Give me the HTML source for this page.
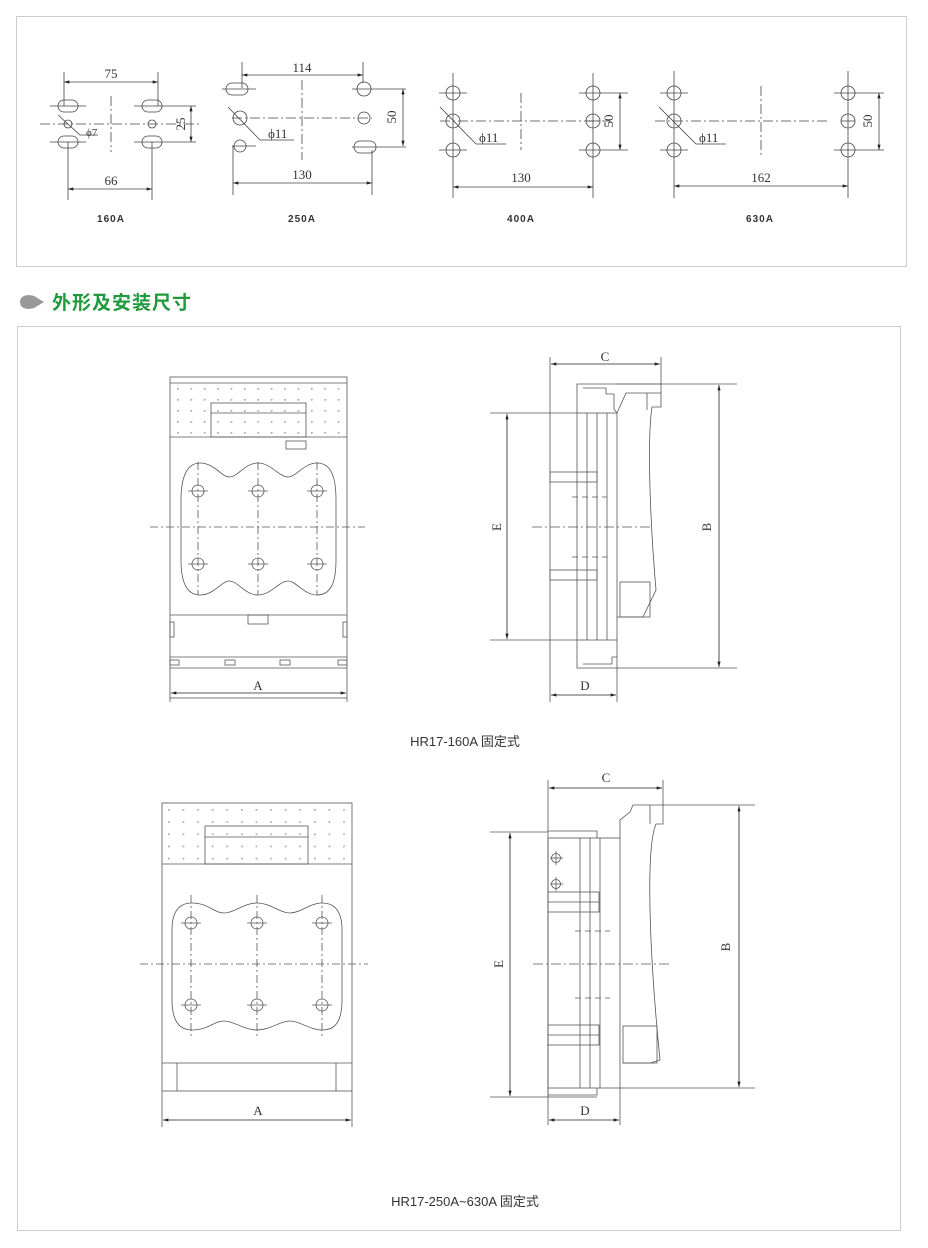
<!DOCTYPE html>
<html><head><meta charset="utf-8"><style>
html,body{margin:0;padding:0;background:#fff;}
svg{display:block;}
text{font-family:"Liberation Serif","Noto Serif CJK SC",serif;fill:#333;}
.s{font-family:"Liberation Sans","Noto Sans CJK SC",sans-serif;}
</style></head><body>
<svg width="928" height="1248" viewBox="0 0 928 1248" xmlns="http://www.w3.org/2000/svg">
<defs>
<marker id="a" viewBox="0 0 10 6" refX="10" refY="3" markerWidth="9" markerHeight="4" orient="auto-start-reverse"><path d="M0,0 L10,3 L0,6z" fill="#222"/></marker>
<pattern id="dots" x="177" y="388" width="13.4" height="11" patternUnits="userSpaceOnUse"><circle cx="0.5" cy="0.5" r="1.3" fill="#aaa"/></pattern>
<pattern id="dots2" x="168" y="809" width="14.6" height="12.2" patternUnits="userSpaceOnUse"><circle cx="0.5" cy="0.5" r="1.3" fill="#aaa"/></pattern>
</defs>
<rect x="16.5" y="16.5" width="890" height="250" fill="none" stroke="#ccc"/>
<rect x="17.5" y="326.5" width="883" height="904" fill="none" stroke="#ccc"/>

<g stroke="#444" stroke-width="0.8" fill="none">
<!-- 160A -->
<line x1="40" y1="124" x2="200" y2="124" stroke-dasharray="10,3,2,3"/>
<line x1="111" y1="96" x2="111" y2="152" stroke-dasharray="10,3,2,3"/>
<rect x="58" y="100" width="20" height="12" rx="6"/><rect x="58" y="136" width="20" height="12" rx="6"/>
<rect x="142" y="100" width="20" height="12" rx="6"/><rect x="142" y="136" width="20" height="12" rx="6"/>
<circle cx="68" cy="124" r="4"/><circle cx="152" cy="124" r="4"/>
<line x1="50" y1="106" x2="86" y2="106"/><line x1="50" y1="142" x2="86" y2="142"/>
<line x1="134" y1="106" x2="196" y2="106"/><line x1="134" y1="142" x2="196" y2="142"/>
<line x1="64" y1="72" x2="64" y2="106"/><line x1="158" y1="72" x2="158" y2="106"/>
<line x1="68" y1="142" x2="68" y2="200"/><line x1="152" y1="142" x2="152" y2="200"/>
<line x1="64" y1="82" x2="158" y2="82" marker-start="url(#a)" marker-end="url(#a)"/>
<line x1="68" y1="189" x2="152" y2="189" marker-start="url(#a)" marker-end="url(#a)"/>
<line x1="191" y1="106" x2="191" y2="142" marker-start="url(#a)" marker-end="url(#a)"/>
<polyline points="58,115 80,135 98,135"/>
<!-- 250A -->
<line x1="232" y1="118" x2="372" y2="118" stroke-dasharray="10,3,2,3"/>
<line x1="302" y1="80" x2="302" y2="160" stroke-dasharray="10,3,2,3"/>
<rect x="226" y="83" width="22" height="12" rx="6"/><circle cx="240" cy="118" r="7"/><circle cx="240" cy="146" r="6"/>
<circle cx="364" cy="89" r="7"/><circle cx="364" cy="118" r="6"/><rect x="354" y="141" width="22" height="12" rx="6"/>
<line x1="222" y1="89" x2="256" y2="89"/><line x1="232" y1="146" x2="256" y2="146"/>
<line x1="352" y1="89" x2="406" y2="89"/><line x1="352" y1="147" x2="406" y2="147"/>
<line x1="242" y1="62" x2="242" y2="88"/><line x1="363" y1="62" x2="363" y2="83"/>
<line x1="233" y1="146" x2="233" y2="195"/><line x1="372" y1="150" x2="372" y2="195"/>
<line x1="242" y1="75" x2="363" y2="75" marker-start="url(#a)" marker-end="url(#a)"/>
<line x1="233" y1="183" x2="372" y2="183" marker-start="url(#a)" marker-end="url(#a)"/>
<line x1="403" y1="89" x2="403" y2="146" marker-start="url(#a)" marker-end="url(#a)"/>
<polyline points="228,107 260,140 294,140"/>
<!-- 400A -->
<line x1="440" y1="121" x2="610" y2="121" stroke-dasharray="10,3,2,3"/>
<line x1="521" y1="93" x2="521" y2="150" stroke-dasharray="10,3,2,3"/>
<g><circle cx="453" cy="93" r="7"/><circle cx="453" cy="121" r="7"/><circle cx="453" cy="150" r="7"/>
<circle cx="593" cy="93" r="7"/><circle cx="593" cy="121" r="7"/><circle cx="593" cy="150" r="7"/>
<line x1="439" y1="93" x2="467" y2="93"/><line x1="439" y1="150" x2="467" y2="150"/>
<line x1="579" y1="93" x2="628" y2="93"/><line x1="579" y1="150" x2="628" y2="150"/><line x1="586" y1="121" x2="600" y2="121"/>
<line x1="453" y1="73" x2="453" y2="198"/><line x1="593" y1="73" x2="593" y2="198"/></g>
<line x1="453" y1="187" x2="593" y2="187" marker-start="url(#a)" marker-end="url(#a)"/>
<line x1="620" y1="93" x2="620" y2="150" marker-start="url(#a)" marker-end="url(#a)"/>
<polyline points="440,107 476,144 506,144"/>
<!-- 630A -->
<line x1="655" y1="121" x2="830" y2="121" stroke-dasharray="10,3,2,3"/>
<line x1="761" y1="86" x2="761" y2="156" stroke-dasharray="10,3,2,3"/>
<g><circle cx="674" cy="93" r="7"/><circle cx="674" cy="121" r="7"/><circle cx="674" cy="150" r="7"/>
<circle cx="848" cy="93" r="7"/><circle cx="848" cy="121" r="7"/><circle cx="848" cy="150" r="7"/>
<line x1="660" y1="93" x2="688" y2="93"/><line x1="660" y1="150" x2="688" y2="150"/>
<line x1="834" y1="93" x2="884" y2="93"/><line x1="834" y1="150" x2="884" y2="150"/><line x1="841" y1="121" x2="855" y2="121"/>
<line x1="674" y1="71" x2="674" y2="198"/><line x1="848" y1="71" x2="848" y2="198"/></g>
<line x1="674" y1="186" x2="848" y2="186" marker-start="url(#a)" marker-end="url(#a)"/>
<line x1="879" y1="93" x2="879" y2="150" marker-start="url(#a)" marker-end="url(#a)"/>
<polyline points="659,107 696,144 726,144"/>
</g>
<g font-size="13">
<text x="111" y="78" text-anchor="middle">75</text>
<text x="111" y="185" text-anchor="middle">66</text>
<text x="86" y="136" font-size="11">ϕ7</text>
<text transform="translate(185,124) rotate(-90)" text-anchor="middle" font-size="13">25</text>
<text x="302" y="72" text-anchor="middle">114</text>
<text x="302" y="179" text-anchor="middle">130</text>
<text x="268" y="138">ϕ11</text>
<text transform="translate(396,117) rotate(-90)" text-anchor="middle">50</text>
<text x="521" y="182" text-anchor="middle">130</text>
<text x="479" y="142">ϕ11</text>
<text transform="translate(613,121) rotate(-90)" text-anchor="middle">50</text>
<text x="761" y="182" text-anchor="middle">162</text>
<text x="699" y="142">ϕ11</text>
<text transform="translate(872,121) rotate(-90)" text-anchor="middle">50</text>
</g>
<g class="s" font-size="10" font-weight="bold" text-anchor="middle" letter-spacing="1">
<text class="s" x="111" y="222">160A</text><text class="s" x="302" y="222">250A</text>
<text class="s" x="521" y="222">400A</text><text class="s" x="760" y="222">630A</text>
</g>

<!-- heading -->
<path d="M20,302 C20,295 28,294 34,296 L44,302 L34,308 C28,310 20,309 20,302z" fill="#999"/>
<text class="s" x="52" y="309" font-size="19" font-weight="bold" style="fill:#1e9a3c" letter-spacing="1">外形及安装尺寸</text>

<!-- front view 1 -->
<rect x="177" y="383" width="165" height="54" fill="url(#dots)"/>
<g stroke="#555" stroke-width="0.8" fill="none">
<rect x="170" y="377" width="177" height="321"/>
<line x1="170" y1="383" x2="347" y2="383"/><line x1="170" y1="437" x2="347" y2="437"/>
<rect x="211" y="403" width="95" height="34"/><line x1="211" y1="413" x2="306" y2="413"/>
<rect x="286" y="441" width="20" height="8"/>
<path d="M181,500 C181,475 188,463 200,463 C214,463 222,477 229,477 C238,477 245,463 258,463 C271,463 279,477 288,477 C296,477 304,463 317,463 C330,463 336,475 336,500 L336,560 C336,584 330,595 317,595 C304,595 296,581 288,581 C279,581 271,595 258,595 C245,595 238,581 229,581 C222,581 214,595 200,595 C188,595 181,584 181,560z"/>
<g stroke-dasharray="8,3,2,3"><line x1="150" y1="527" x2="365" y2="527"/>
<line x1="198" y1="462" x2="198" y2="595"/><line x1="258" y1="462" x2="258" y2="595"/><line x1="317" y1="462" x2="317" y2="595"/></g>
<circle cx="198" cy="491" r="6"/><circle cx="258" cy="491" r="6"/><circle cx="317" cy="491" r="6"/>
<circle cx="198" cy="564" r="6"/><circle cx="258" cy="564" r="6"/><circle cx="317" cy="564" r="6"/>
<g><line x1="188" y1="491" x2="208" y2="491"/><line x1="248" y1="491" x2="268" y2="491"/><line x1="307" y1="491" x2="327" y2="491"/>
<line x1="188" y1="564" x2="208" y2="564"/><line x1="248" y1="564" x2="268" y2="564"/><line x1="307" y1="564" x2="327" y2="564"/></g>
<line x1="170" y1="615" x2="347" y2="615"/>
<rect x="248" y="615" width="20" height="9"/>
<rect x="170" y="622" width="4" height="15"/><rect x="343" y="622" width="4" height="15"/>
<line x1="170" y1="657" x2="347" y2="657"/><line x1="170" y1="668" x2="347" y2="668"/>
<rect x="170" y="660" width="9" height="5"/><rect x="225" y="660" width="10" height="5"/><rect x="280" y="660" width="10" height="5"/><rect x="338" y="660" width="9" height="5"/>
<line x1="170" y1="698" x2="170" y2="702"/><line x1="347" y1="698" x2="347" y2="702"/>
<line x1="171" y1="693" x2="346" y2="693" stroke="#222" marker-start="url(#a)" marker-end="url(#a)"/>
</g>
<text x="258" y="690" font-size="13" text-anchor="middle">A</text>

<!-- side view 1 -->
<g stroke="#555" stroke-width="0.8" fill="none">
<line x1="550" y1="357" x2="550" y2="702"/>
<line x1="661" y1="357" x2="661" y2="393"/>
<line x1="617" y1="668" x2="617" y2="702"/>
<rect x="577" y="413" width="40" height="227"/>
<line x1="587" y1="413" x2="587" y2="640"/><line x1="597" y1="413" x2="597" y2="640"/><line x1="607" y1="413" x2="607" y2="640"/>
<path d="M577,413 L577,384 L661,384 M577,640 L577,668 L617,668 L617,640"/>
<path d="M583,388 L606,388 L606,394 L614,394 L614,409 L617,413"/>
<path d="M583,664 L612,664 L612,657 L617,657"/>
<path d="M617,413 L626,393 L661,393 L661,407 L652,407 C647,440 650,520 656,590 L643,617 L617,617"/>
<line x1="647" y1="393" x2="647" y2="410"/>
<rect x="620" y="582" width="30" height="35"/>
<rect x="550" y="472" width="47" height="10"/><rect x="550" y="570" width="47" height="10"/>
<g stroke-dasharray="6,4"><line x1="572" y1="497" x2="607" y2="497"/><line x1="572" y1="557" x2="607" y2="557"/></g>
<line x1="532" y1="527" x2="652" y2="527" stroke-dasharray="10,3,2,3"/>
<line x1="617" y1="384" x2="737" y2="384"/><line x1="617" y1="668" x2="737" y2="668"/>
<line x1="490" y1="413" x2="577" y2="413"/><line x1="490" y1="640" x2="577" y2="640"/>
<g stroke="#222">
<line x1="551" y1="364" x2="660" y2="364" marker-start="url(#a)" marker-end="url(#a)"/>
<line x1="551" y1="695" x2="616" y2="695" marker-start="url(#a)" marker-end="url(#a)"/>
<line x1="719" y1="385" x2="719" y2="667" marker-start="url(#a)" marker-end="url(#a)"/>
<line x1="507" y1="414" x2="507" y2="639" marker-start="url(#a)" marker-end="url(#a)"/></g>
</g>
<g font-size="13" text-anchor="middle">
<text x="605" y="361">C</text><text x="585" y="690">D</text>
<text transform="translate(711,527) rotate(-90)">B</text>
<text transform="translate(501,527) rotate(-90)">E</text>
</g>
<text class="s" x="465" y="746" font-size="13" text-anchor="middle">HR17-160A 固定式</text>

<!-- front view 2 -->
<rect x="164" y="803" width="186" height="61" fill="url(#dots2)"/>
<g stroke="#555" stroke-width="0.8" fill="none">
<rect x="162" y="803" width="190" height="288"/>
<line x1="162" y1="864" x2="352" y2="864"/>
<rect x="205" y="826" width="103" height="38"/><line x1="205" y1="837" x2="308" y2="837"/>
<path d="M172,930 C172,910 180,903 192,903 C208,903 214,913 224,913 C234,913 244,903 257,903 C270,903 280,913 290,913 C300,913 310,903 322,903 C335,903 342,912 342,930 L342,1000 C342,1022 335,1030 322,1030 C310,1030 300,1021 290,1021 C280,1021 270,1030 257,1030 C244,1030 234,1021 224,1021 C214,1021 208,1030 192,1030 C180,1030 172,1022 172,1000z"/>
<g stroke-dasharray="8,3,2,3"><line x1="140" y1="964" x2="368" y2="964"/>
<line x1="191" y1="895" x2="191" y2="1037"/><line x1="257" y1="895" x2="257" y2="1037"/><line x1="322" y1="895" x2="322" y2="1037"/></g>
<circle cx="191" cy="923" r="6"/><circle cx="257" cy="923" r="6"/><circle cx="322" cy="923" r="6"/>
<circle cx="191" cy="1005" r="6"/><circle cx="257" cy="1005" r="6"/><circle cx="322" cy="1005" r="6"/>
<g><line x1="181" y1="923" x2="201" y2="923"/><line x1="247" y1="923" x2="267" y2="923"/><line x1="312" y1="923" x2="332" y2="923"/>
<line x1="181" y1="1005" x2="201" y2="1005"/><line x1="247" y1="1005" x2="267" y2="1005"/><line x1="312" y1="1005" x2="332" y2="1005"/></g>
<line x1="162" y1="1063" x2="352" y2="1063"/>
<line x1="177" y1="1063" x2="177" y2="1091"/><line x1="336" y1="1063" x2="336" y2="1091"/>
<line x1="162" y1="1091" x2="162" y2="1127"/><line x1="352" y1="1091" x2="352" y2="1127"/>
<line x1="163" y1="1120" x2="351" y2="1120" stroke="#222" marker-start="url(#a)" marker-end="url(#a)"/>
</g>
<text x="258" y="1115" font-size="13" text-anchor="middle">A</text>

<!-- side view 2 -->
<g stroke="#555" stroke-width="0.8" fill="none">
<line x1="548" y1="780" x2="548" y2="1125"/>
<line x1="663" y1="780" x2="663" y2="805"/>
<line x1="620" y1="1088" x2="620" y2="1125"/>
<path d="M548,831 L597,831 L597,838"/>
<rect x="548" y="838" width="72" height="250"/>
<line x1="580" y1="838" x2="580" y2="1088"/><line x1="590" y1="838" x2="590" y2="1088"/><line x1="600" y1="838" x2="600" y2="1088"/>
<path d="M548,1088 L548,1095 L597,1095 L597,1088"/>
<rect x="548" y="892" width="51" height="20"/><line x1="548" y1="902" x2="599" y2="902"/>
<rect x="548" y="1025" width="51" height="20"/><line x1="548" y1="1035" x2="599" y2="1035"/>
<circle cx="556" cy="858" r="4.5"/><line x1="550" y1="858" x2="563" y2="858"/><line x1="556" y1="851" x2="556" y2="865"/>
<circle cx="556" cy="884" r="4.5"/><line x1="550" y1="884" x2="563" y2="884"/><line x1="556" y1="877" x2="556" y2="891"/>
<g stroke-dasharray="6,4"><line x1="575" y1="931" x2="610" y2="931"/><line x1="575" y1="998" x2="610" y2="998"/></g>
<line x1="533" y1="964" x2="669" y2="964" stroke-dasharray="10,3,2,3"/>
<path d="M620,838 L620,820 L630,812 L633,805 L663,805 L663,824 L656,824 C645,850 650,960 660,1060 L650,1063 L623,1063"/>
<line x1="650" y1="805" x2="650" y2="824"/>
<rect x="623" y="1026" width="34" height="37"/>
<line x1="620" y1="1088" x2="755" y2="1088"/><line x1="663" y1="805" x2="755" y2="805"/>
<line x1="490" y1="832" x2="548" y2="832"/><line x1="490" y1="1097" x2="597" y2="1097"/>
<g stroke="#222">
<line x1="549" y1="788" x2="662" y2="788" marker-start="url(#a)" marker-end="url(#a)"/>
<line x1="549" y1="1120" x2="619" y2="1120" marker-start="url(#a)" marker-end="url(#a)"/>
<line x1="739" y1="806" x2="739" y2="1087" marker-start="url(#a)" marker-end="url(#a)"/>
<line x1="510" y1="833" x2="510" y2="1096" marker-start="url(#a)" marker-end="url(#a)"/></g>
</g>
<g font-size="13" text-anchor="middle">
<text x="606" y="782">C</text><text x="585" y="1115">D</text>
<text transform="translate(730,947) rotate(-90)">B</text>
<text transform="translate(503,964) rotate(-90)">E</text>
</g>
<text class="s" x="465" y="1206" font-size="13" text-anchor="middle">HR17-250A~630A 固定式</text>
</svg>
</body></html>
